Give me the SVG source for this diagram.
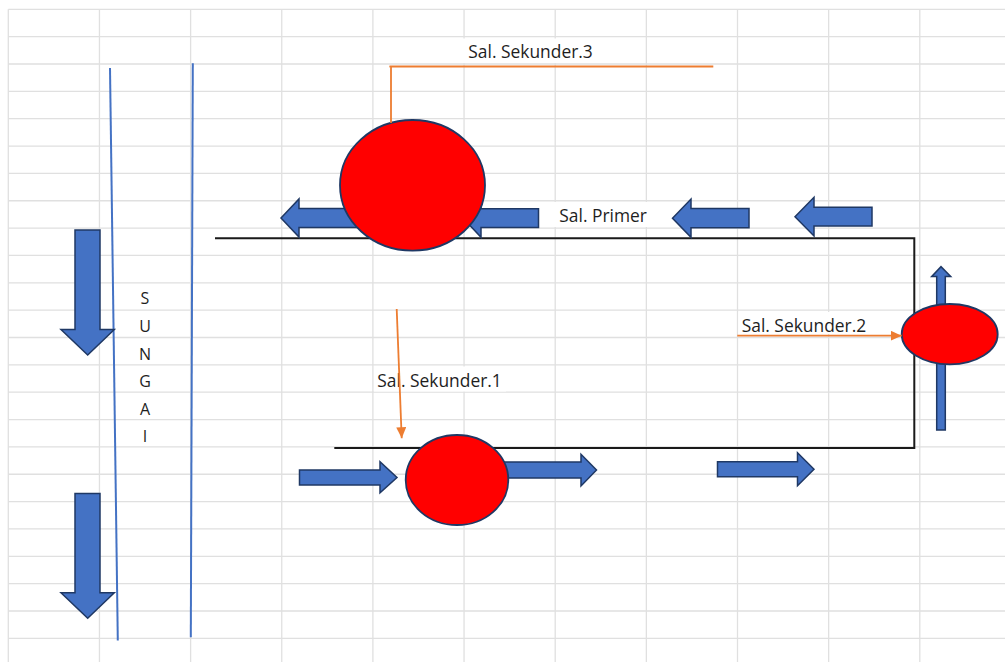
<svg xmlns="http://www.w3.org/2000/svg" width="1005" height="662" viewBox="0 0 1005 662">
  <defs>
    <style>
      .grid { fill: none; stroke: #e0e0e0; stroke-width: 1.3; }
      .river { fill: none; stroke: #4472c4; stroke-width: 2; }
      .channel { fill: none; stroke: #1a1a1a; stroke-width: 2; }
      .flow { fill: #4472c4; stroke: #1f3864; stroke-width: 1.5; stroke-linejoin: miter; }
      .gate { fill: #ff0000; stroke: #1f3864; stroke-width: 1.8; }
      .link { fill: none; stroke: #ed7d31; stroke-width: 1.8; }
      .box { fill: #ffffff; stroke: none; }
      .label { font-family: "Open Sans", "Noto Sans", "Liberation Sans", sans-serif; font-size: 17.4px; fill: #1e1e1e; }
      .river-label { font-family: "Open Sans", "Noto Sans", "Liberation Sans", sans-serif; font-size: 16px; fill: #1e1e1e; text-anchor: middle; }
    </style>
    <marker id="tip" markerUnits="userSpaceOnUse" markerWidth="11" markerHeight="10" refX="11" refY="5" orient="auto">
      <path d="M0,0 L11,5 L0,10 Z" fill="#ed7d31"/>
    </marker>
  </defs>

  <rect x="0" y="0" width="1005" height="662" fill="#ffffff"/>

  <!-- worksheet cell grid -->
  <path class="grid" d="
    M8.3,9.3 V662 M99.45,9.3 V662 M190.6,9.3 V662 M281.75,9.3 V662 M372.9,9.3 V662
    M464.05,9.3 V662 M555.2,9.3 V662 M646.35,9.3 V662 M737.5,9.3 V662 M828.65,9.3 V662 M919.8,9.3 V662
    M8.3,9.3 H1005 M8.3,36.65 H1005 M8.3,64 H1005 M8.3,91.35 H1005 M8.3,118.7 H1005 M8.3,146.05 H1005
    M8.3,173.4 H1005 M8.3,200.75 H1005 M8.3,228.1 H1005 M8.3,255.45 H1005 M8.3,282.8 H1005 M8.3,310.15 H1005
    M8.3,337.5 H1005 M8.3,364.85 H1005 M8.3,392.2 H1005 M8.3,419.55 H1005 M8.3,446.9 H1005 M8.3,474.25 H1005
    M8.3,501.6 H1005 M8.3,528.95 H1005 M8.3,556.3 H1005 M8.3,583.65 H1005 M8.3,611 H1005 M8.3,638.35 H1005"/>

  <!-- river banks and label -->
  <g id="river">
    <line class="river" x1="110" y1="68" x2="117.8" y2="640.5"/>
    <line class="river" x1="192.8" y1="63.3" x2="190.8" y2="637.3"/>
    <text class="river-label" x="145" y="304.3">S</text>
    <text class="river-label" x="145" y="331.9">U</text>
    <text class="river-label" x="145" y="359.5">N</text>
    <text class="river-label" x="145" y="387.1">G</text>
    <text class="river-label" x="145" y="414.7">A</text>
    <text class="river-label" x="145" y="442.3">I</text>
  </g>

  <!-- river flow direction -->
  <g id="river-flow">
    <path class="flow" d="M75,230 H100 V329.5 H114.3 L87.7,355 L61,329.5 H75 Z"/>
    <path class="flow" d="M75,493.5 H100 V592.7 H114.3 L87.7,618.3 L61,592.7 H75 Z"/>
  </g>

  <!-- primary and secondary channels -->
  <g id="channels">
    <path class="channel" d="M215,238.3 H914.3 V447.9 H334.3"/>
  </g>

  <!-- flow arrows along the channels -->
  <g id="channel-flow">
    <path class="flow" d="M281,218 L299,199 V208.5 H358 V227.5 H299 V237 Z"/>
    <path class="flow" d="M463,218 L481,199 V208.8 H538.5 V227.6 H481 V237.3 Z"/>
    <path class="flow" d="M672.5,218.2 L691,199 V208.5 H749 V227.8 H691 V237.3 Z"/>
    <path class="flow" d="M795,216.7 L814,197.3 V207.3 H872 V226 H814 V236 Z"/>
    <path class="flow" d="M299.5,470 H380 V461.8 L397,477.5 L380,492.8 V485 H299.5 Z"/>
    <path class="flow" d="M500,462 H581 V454.3 L596.5,470 L581,486 V478 H500 Z"/>
    <path class="flow" d="M717.5,461.8 H797.5 V452.8 L814,469.2 L797.5,485.7 V476.7 H717.5 Z"/>
    <path class="flow" d="M936.7,430 V276.5 H931.7 L941,266.7 L950.7,276.5 H945.3 V430 Z"/>
  </g>

  <!-- offtake structures -->
  <g id="gate-3">
    <ellipse class="gate" cx="412.5" cy="185.3" rx="72.5" ry="65.3"/>
  </g>
  <g id="gate-1">
    <ellipse class="gate" cx="457" cy="480" rx="51.3" ry="45"/>
  </g>
  <g id="gate-2">
    <ellipse class="gate" cx="949.7" cy="334.2" rx="48" ry="30.2"/>
  </g>

  <!-- labels -->
  <g id="label-sek3">
    <rect class="box" x="462" y="38.5" width="138" height="24.5"/>
    <text class="label" x="468.3" y="58.3">Sal. Sekunder.3</text>
  </g>
  <g id="label-primer">
    <rect class="box" x="551" y="202" width="106" height="25"/>
    <text class="label" x="559.3" y="222.3">Sal. Primer</text>
  </g>
  <g id="label-sek2">
    <rect class="box" x="738.5" y="312" width="133" height="22"/>
    <text class="label" x="741.7" y="331.7">Sal. Sekunder.2</text>
  </g>
  <g id="label-sek1">
    <rect class="box" x="374" y="366.5" width="132" height="25"/>
    <text class="label" x="377.3" y="386.7">Sal. Sekunder.1</text>
  </g>

  <!-- secondary channel connectors -->
  <g id="connectors">
    <polyline class="link" points="713.3,66.5 389.5,66.5 391,67 391,123"/>
    <line class="link" x1="737.3" y1="335.7" x2="901.7" y2="335.7" marker-end="url(#tip)"/>
    <line class="link" x1="396.7" y1="309" x2="401.7" y2="438.3" marker-end="url(#tip)"/>
  </g>
</svg>
